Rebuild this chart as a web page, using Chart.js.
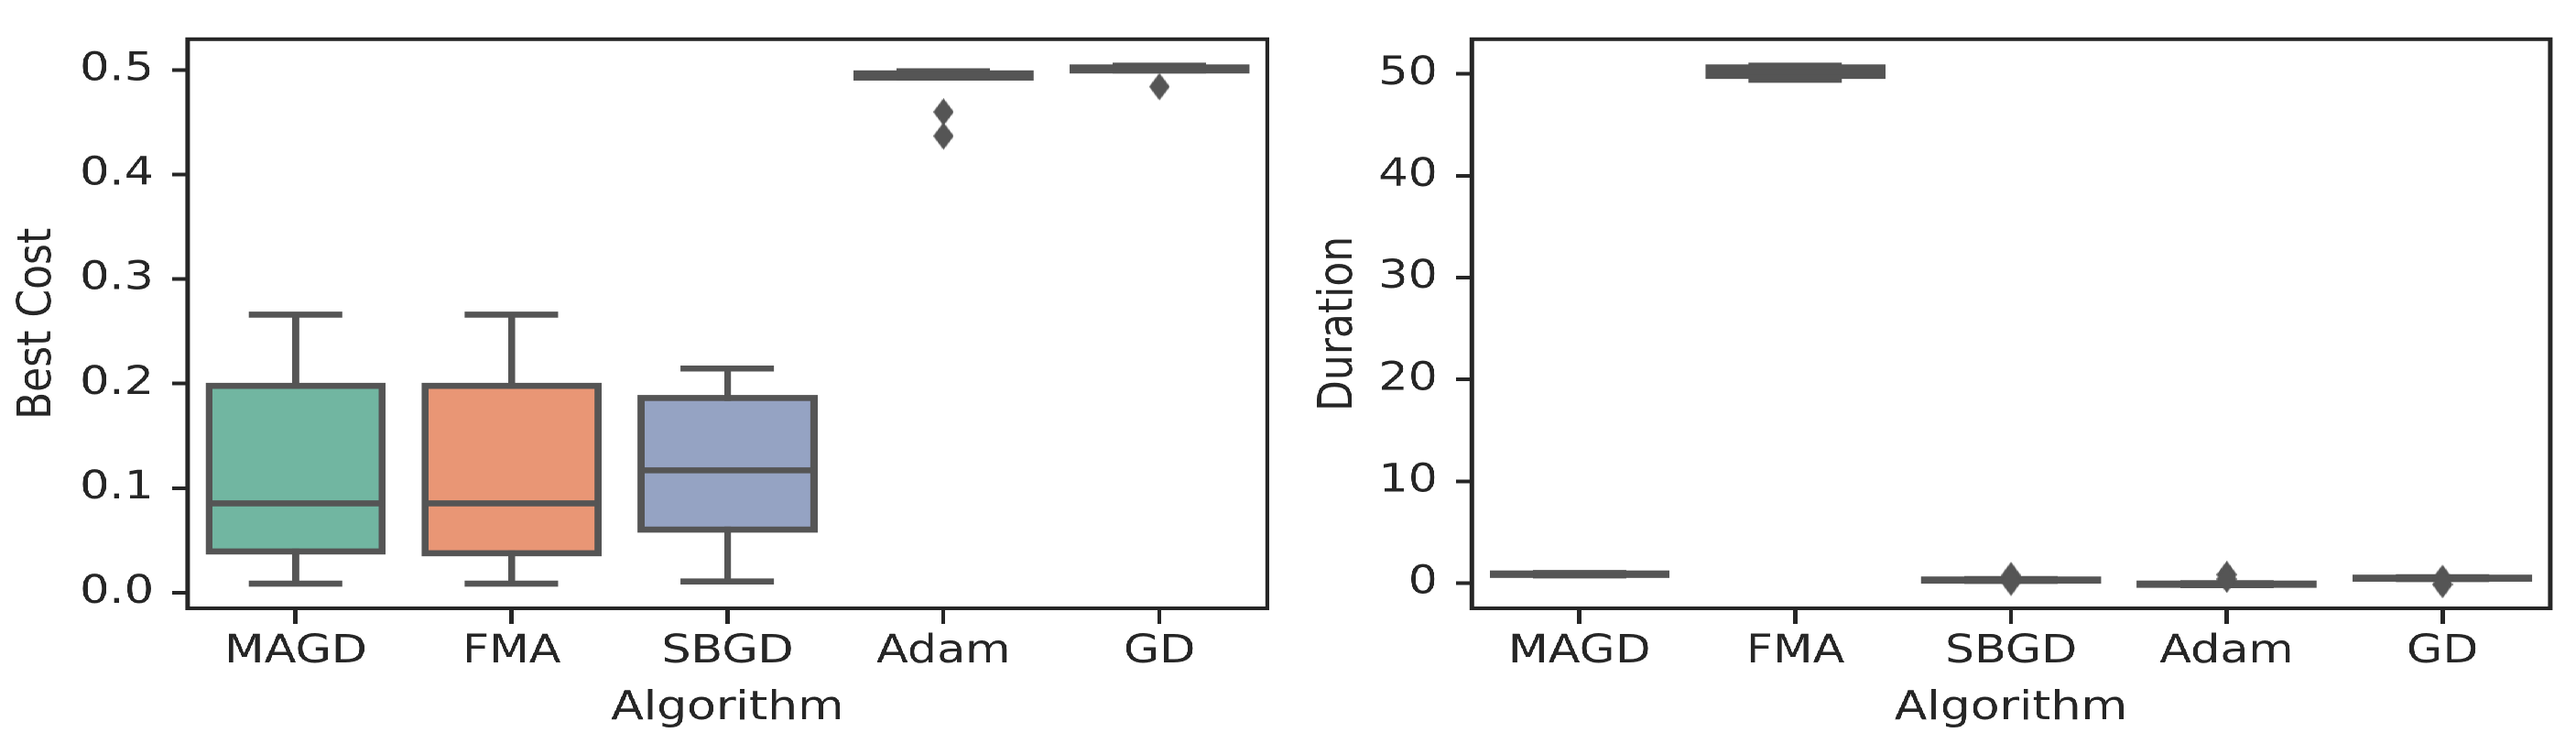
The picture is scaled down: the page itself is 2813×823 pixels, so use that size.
<!DOCTYPE html>
<html>
<head>
<meta charset="utf-8">
<title>Best Cost / Duration by Algorithm</title>
<script src="https://cdn.jsdelivr.net/npm/chart.js@4.4.0/dist/chart.umd.min.js"></script>
<style>
    html, body { margin: 0; padding: 0; background: #fff; overflow: hidden; }
    /* the reference figure is stretched sideways, so draw narrow and stretch */
    #stage { position: absolute; left: 0; top: 0; width: 2384px; height: 823px; transform: scaleX(1.18); transform-origin: 0 0; }
    .panel { position: absolute; top: 0; height: 823px; }
    #left { left: 0; width: 1200px; }
    #right { left: 1200px; width: 1184px; }
</style>
</head>
<body>
<div id="stage">
    <div class="panel" id="left"><canvas id="cost-chart"></canvas></div>
    <div class="panel" id="right"><canvas id="duration-chart"></canvas></div>
</div>
<script>
// Categories
const algorithms = ['MAGD', 'FMA', 'SBGD', 'Adam', 'GD'];

// Best Cost box stats
const costWhiskerLow  = [0.0086, 0.0086, 0.0107, 0.4927, 0.4995];
const costQ1          = [0.0394, 0.0377, 0.0603, 0.4927, 0.4995];
const costMedian      = [0.0854, 0.0854, 0.1170, 0.4950, 0.5010];
const costQ3          = [0.1978, 0.1978, 0.1862, 0.4967, 0.5024];
const costWhiskerHigh = [0.2659, 0.2659, 0.2144, 0.4987, 0.5041];
const costFliers = [['Adam', 0.4598], ['Adam', 0.4368], ['GD', 0.4840]];
const costTicks = [0, 0.1, 0.2, 0.3, 0.4, 0.5];

// Duration box stats
const durationWhiskerLow  = [0.76, 49.42, 0.22, -0.20, 0.40];
const durationQ1          = [0.81, 49.80, 0.25, -0.16, 0.44];
const durationMedian      = [0.88, 50.20, 0.30, -0.10, 0.49];
const durationQ3          = [0.95, 50.63, 0.36, -0.04, 0.54];
const durationWhiskerHigh = [1.00, 50.80, 0.40, 0.00, 0.58];
const durationFliers = [['SBGD', 0.73], ['SBGD', 0.11], ['Adam', 0.84], ['Adam', 0.40], ['GD', 0.46], ['GD', -0.13]];
const durationTicks = [0, 10, 20, 30, 40, 50];

// Styling
const boxColors = ['#71b6a1', '#e99675', '#95a3c3', '#db96c0', '#a2c764'];
const lineColor = '#555555';
const axisColor = '#262626';
const tickFont = { family: 'DejaVu Sans', size: 43 };
const labelFont = { family: 'DejaVu Sans', size: 44 };

// thin diamond marker like matplotlib's 'd'
function thinDiamond(w, h, color) {
    const c = document.createElement('canvas');
    c.width = w;
    c.height = h;
    const g = c.getContext('2d');
    g.fillStyle = color;
    g.beginPath();
    g.moveTo(w / 2, 0);
    g.lineTo(w, h / 2);
    g.lineTo(w / 2, h);
    g.lineTo(0, h / 2);
    g.closePath();
    g.fill();
    return c;
}
const flierMarker = thinDiamond(19, 30, lineColor);

// Draws box outlines, medians, whiskers and caps over the bar fills, plus the axes frame
const boxPlotPlugin = {
    id: 'boxPlot',
    afterDatasetDraw(chart, args, opts) {
        if (args.meta.type !== 'bar') return;
        const { ctx } = chart;
        const xs = chart.scales.x, ys = chart.scales.y;
        ctx.save();
        ctx.strokeStyle = lineColor;
        ctx.lineWidth = 6.6;
        ctx.lineJoin = 'miter';
        args.meta.data.forEach((bar, i) => {
            const cx = xs.getPixelForValue(i);
            const half = bar.width / 2;
            const cap = half / 2;
            const lo = ys.getPixelForValue(opts.low[i]);
            const q1 = ys.getPixelForValue(opts.q1[i]);
            const med = ys.getPixelForValue(opts.median[i]);
            const q3 = ys.getPixelForValue(opts.q3[i]);
            const hi = ys.getPixelForValue(opts.high[i]);

            ctx.lineCap = 'square';
            ctx.beginPath();
            ctx.moveTo(cx, q1); ctx.lineTo(cx, lo);
            ctx.moveTo(cx, q3); ctx.lineTo(cx, hi);
            ctx.moveTo(cx - cap, lo); ctx.lineTo(cx + cap, lo);
            ctx.moveTo(cx - cap, hi); ctx.lineTo(cx + cap, hi);
            ctx.stroke();

            ctx.lineCap = 'butt';
            ctx.strokeRect(cx - half, q3, half * 2, q1 - q3);
            ctx.beginPath();
            ctx.moveTo(cx - half, med); ctx.lineTo(cx + half, med);
            ctx.stroke();
        });
        ctx.restore();
    },
    afterDatasetsDraw(chart) {
        const { ctx, chartArea: a } = chart;
        ctx.save();
        ctx.strokeStyle = axisColor;
        ctx.lineWidth = 4;
        ctx.strokeRect(a.left, a.top, a.right - a.left, a.bottom - a.top);
        ctx.restore();
    }
};

function makeChart(id, cfg) {
    return new Chart(document.getElementById(id), {
        type: 'bar',
        data: {
            labels: algorithms,
            datasets: [
                {
                    type: 'bar',
                    data: cfg.q1.map((v, i) => [v, cfg.q3[i]]),
                    backgroundColor: boxColors,
                    borderWidth: 0,
                    barPercentage: 0.8,
                    categoryPercentage: 1,
                    order: 1
                },
                {
                    type: 'line',
                    data: cfg.fliers.map(([a, v]) => ({ x: a, y: v })),
                    showLine: false,
                    pointStyle: flierMarker,
                    pointRadius: 10,
                    order: 0
                }
            ]
        },
        options: {
            responsive: true,
            maintainAspectRatio: false,
            animation: false,
            events: [],
            devicePixelRatio: 2,
            layout: { padding: { left: 0, top: 34, right: cfg.padRight, bottom: 0 } },
            plugins: {
                legend: { display: false },
                tooltip: { enabled: false },
                boxPlot: { low: cfg.low, q1: cfg.q1, median: cfg.median, q3: cfg.q3, high: cfg.high }
            },
            scales: {
                x: {
                    offset: true,
                    grid: { offset: false, drawOnChartArea: false, tickLength: 17, tickWidth: 4, tickColor: axisColor },
                    border: { display: false },
                    ticks: { font: tickFont, color: axisColor, padding: 5, maxRotation: 0, autoSkip: false },
                    title: { display: true, text: 'Algorithm', font: labelFont, color: axisColor, padding: { top: 0, bottom: 23 } },
                    afterFit: s => { s.height = 159; }
                },
                y: {
                    min: cfg.min,
                    max: cfg.max,
                    afterBuildTicks: s => { s.ticks = cfg.ticks.map(v => ({ value: v })); },
                    grid: { drawOnChartArea: false, tickLength: 14.4, tickWidth: 4, tickColor: axisColor },
                    border: { display: false },
                    ticks: { font: tickFont, color: axisColor, padding: 17, callback: cfg.format },
                    title: { display: true, text: cfg.title, font: labelFont, color: axisColor, padding: { top: cfg.titlePad, bottom: 0 } },
                    afterFit: s => { s.width = cfg.yWidth; }
                }
            }
        },
        plugins: [boxPlotPlugin]
    });
}

makeChart('cost-chart', {
    low: costWhiskerLow, q1: costQ1, median: costMedian, q3: costQ3, high: costWhiskerHigh,
    fliers: costFliers, ticks: costTicks,
    min: -0.015, max: 0.5294,
    format: v => v.toFixed(1),
    title: 'Best Cost', titlePad: 9,
    yWidth: 173.7, padRight: 27.1
});

makeChart('duration-chart', {
    low: durationWhiskerLow, q1: durationQ1, median: durationMedian, q3: durationQ3, high: durationWhiskerHigh,
    fliers: durationFliers, ticks: durationTicks,
    min: -2.47, max: 53.4,
    format: v => String(v),
    title: 'Duration', titlePad: 13.4,
    yWidth: 161.9, padRight: 23.8
});
</script>
</body>
</html>
